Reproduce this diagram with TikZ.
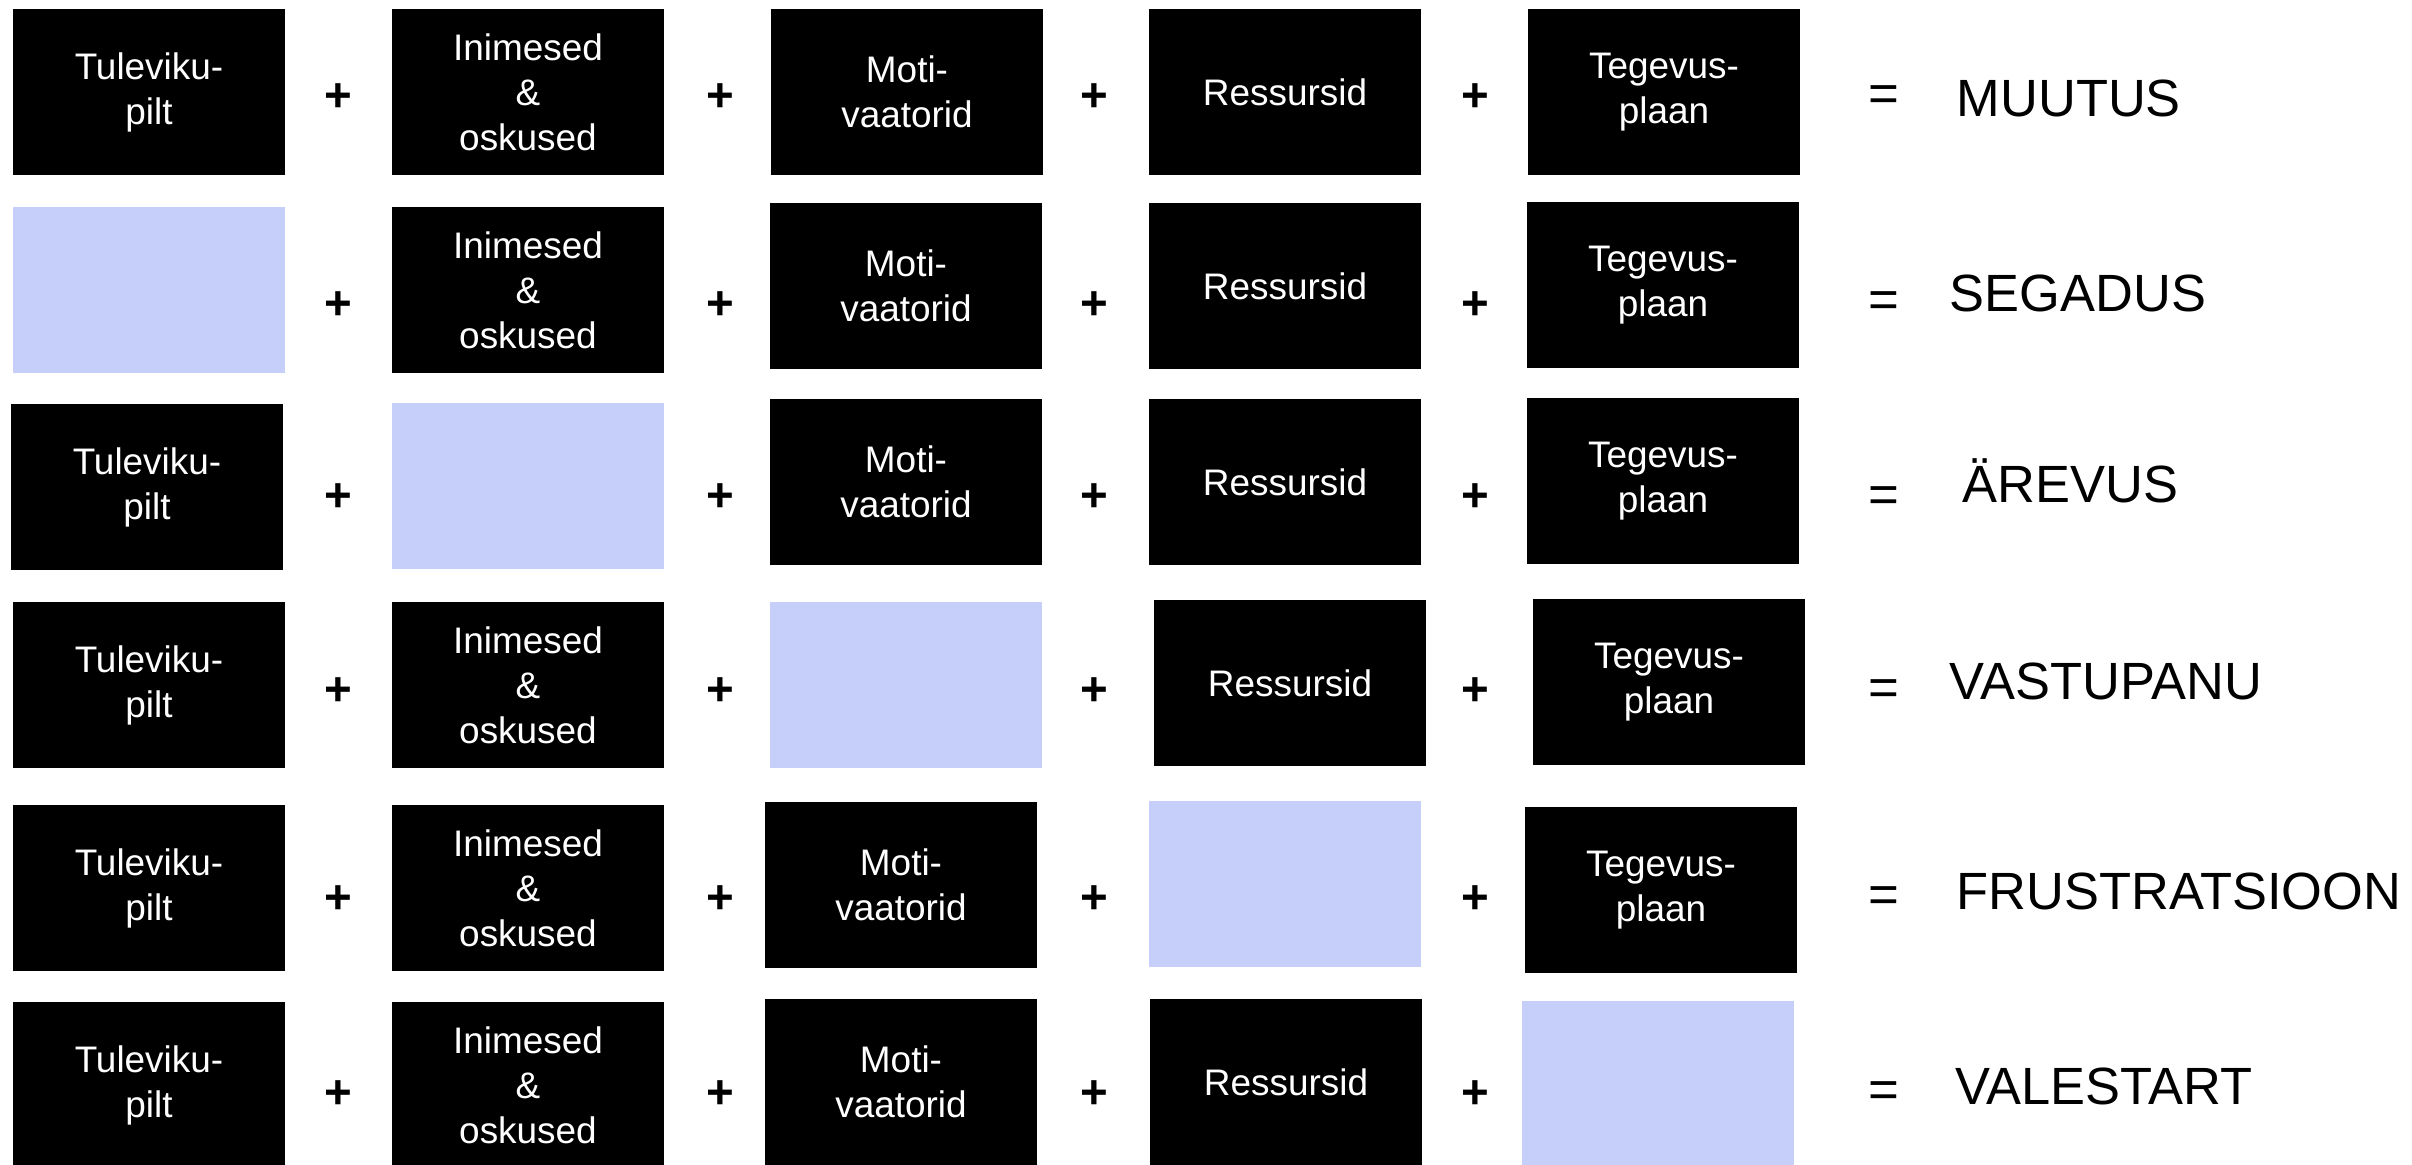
\documentclass[tikz,border=0pt]{standalone}
\usepackage{fontspec}
\setmainfont{Liberation Sans}
\definecolor{gapblue}{RGB}{198,206,250}

\begin{document}
\begin{tikzpicture}[x=0.01cm, y=-0.01cm,
	factor/.style={fill=black, text=white, minimum width=2.72cm, minimum height=1.66cm, inner sep=0pt, align=center, font=\fontsize{10.5}{12.8}\selectfont},
	missing/.style={fill=gapblue, minimum width=2.72cm, minimum height=1.66cm, inner sep=0pt},
	plus/.style={inner sep=0pt, font=\fontsize{13.5}{16}\selectfont\bfseries},
	equal/.style={inner sep=0pt, font=\fontsize{15}{18}\selectfont},
	outcome/.style={anchor=base west, inner sep=0pt, font=\fontsize{14.9}{18}\selectfont}]

	\path [use as bounding box, clip] (0,0) rectangle (2412,1165);

	% MUUTUS
	\node [factor] (pilt1) at (149,92) {Tuleviku-\\pilt};
	\node [factor] (inim1) at (528,92) {Inimesed\\\&\\oskused};
	\node [factor] (moti1) at (907,92) {Moti-\\vaatorid};
	\node [factor] (ress1) at (1285,92) {Ressursid};
	\node [factor] (plaan1) at (1664,92) {Tegevus-\\plaan};
	\node [outcome] (res1) at (1956,117) {MUUTUS};

	% SEGADUS
	\node [missing] (pilt2) at (149,290) {};
	\node [factor] (inim2) at (528,290) {Inimesed\\\&\\oskused};
	\node [factor] (moti2) at (906,286) {Moti-\\vaatorid};
	\node [factor] (ress2) at (1285,286) {Ressursid};
	\node [factor] (plaan2) at (1663,285) {Tegevus-\\plaan};
	\node [outcome] (res2) at (1949,312) {SEGADUS};

	% ÄREVUS
	\node [factor] (pilt3) at (147,487) {Tuleviku-\\pilt};
	\node [missing] (inim3) at (528,486) {};
	\node [factor] (moti3) at (906,482) {Moti-\\vaatorid};
	\node [factor] (ress3) at (1285,482) {Ressursid};
	\node [factor] (plaan3) at (1663,481) {Tegevus-\\plaan};
	\node [outcome] (res3) at (1962,503) {ÄREVUS};

	% VASTUPANU
	\node [factor] (pilt4) at (149,685) {Tuleviku-\\pilt};
	\node [factor] (inim4) at (528,685) {Inimesed\\\&\\oskused};
	\node [missing] (moti4) at (906,685) {};
	\node [factor] (ress4) at (1290,683) {Ressursid};
	\node [factor] (plaan4) at (1669,682) {Tegevus-\\plaan};
	\node [outcome] (res4) at (1949,700) {VASTUPANU};

	% FRUSTRATSIOON
	\node [factor] (pilt5) at (149,888) {Tuleviku-\\pilt};
	\node [factor] (inim5) at (528,888) {Inimesed\\\&\\oskused};
	\node [factor] (moti5) at (901,885) {Moti-\\vaatorid};
	\node [missing] (ress5) at (1285,884) {};
	\node [factor] (plaan5) at (1661,890) {Tegevus-\\plaan};
	\node [outcome] (res5) at (1956,910) {FRUSTRATSIOON};

	% VALESTART
	\node [factor] (pilt6) at (149,1085) {Tuleviku-\\pilt};
	\node [factor] (inim6) at (528,1085) {Inimesed\\\&\\oskused};
	\node [factor] (moti6) at (901,1082) {Moti-\\vaatorid};
	\node [factor] (ress6) at (1286,1082) {Ressursid};
	\node [missing] (plaan6) at (1658,1084) {};
	\node [outcome] (res6) at (1955,1105) {VALESTART};

	% plusses and equals
	\foreach \y [count=\r] in {98,306,498,692,900,1095} {
		\foreach \x [count=\c] in {338,720,1094,1475}
			\node [plus] (plus\r\c) at (\x,\y) {+};
	}
	\foreach \y [count=\r] in {99,305,500,693,900,1095}
		\node [equal] (eq\r) at (1884,\y) {=};

\end{tikzpicture}
\end{document}
